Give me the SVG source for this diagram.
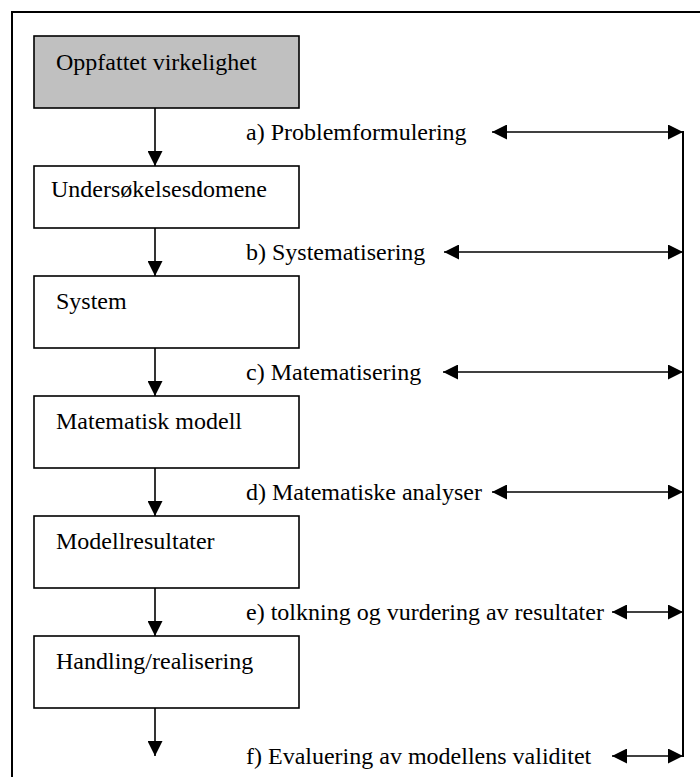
<svg xmlns="http://www.w3.org/2000/svg" width="700" height="777" viewBox="0 0 700 777">
<style>
.box{fill:#fff;stroke:#000;stroke-width:1.6}
.grey{fill:#c0c0c0}
.t{font-family:"Liberation Serif","Times New Roman",serif;font-size:24px;fill:#000}
.ln{stroke:#000;stroke-width:1.6;fill:none}
.da{stroke:#000;stroke-width:1.6;fill:none;marker-start:url(#ah);marker-end:url(#ah)}
.va{stroke:#000;stroke-width:1.6;fill:none;marker-end:url(#ah)}
</style>
<defs>
<marker id="ah" markerUnits="userSpaceOnUse" markerWidth="15" markerHeight="15" refX="15" refY="7.5" orient="auto-start-reverse" viewBox="0 0 15 15">
<path d="M0,0 L15,7.5 L0,15 z" fill="#000"/>
</marker>
</defs>
<rect width="700" height="777" fill="#fff"/>
<path d="M12,777 V12 H702" fill="none" stroke="#000" stroke-width="2"/>

<g id="n1"><rect class="box grey" x="34" y="36" width="265" height="72"/><text class="t" x="56" y="70">Oppfattet virkelighet</text></g>
<g id="n2"><rect class="box" x="34" y="166" width="265" height="62"/><text class="t" x="51" y="197">Undersøkelsesdomene</text></g>
<g id="n3"><rect class="box" x="34" y="276" width="265" height="72"/><text class="t" x="56" y="309">System</text></g>
<g id="n4"><rect class="box" x="34" y="396" width="265" height="72"/><text class="t" x="56" y="429">Matematisk modell</text></g>
<g id="n5"><rect class="box" x="34" y="516" width="265" height="72"/><text class="t" x="56" y="549">Modellresultater</text></g>
<g id="n6"><rect class="box" x="34" y="636" width="265" height="72"/><text class="t" x="56" y="669">Handling/realisering</text></g>

<g id="labels">
<text class="t" x="246" y="140">a) Problemformulering</text>
<text class="t" x="246" y="260">b) Systematisering</text>
<text class="t" x="246" y="380">c) Matematisering</text>
<text class="t" x="246" y="500">d) Matematiske analyser</text>
<text class="t" x="246" y="620">e) tolkning og vurdering av resultater</text>
<text class="t" x="246" y="764">f) Evaluering av modellens validitet</text>
</g>

<g id="connectors">
<line class="va" x1="155" y1="108" x2="155" y2="166"/>
<line class="va" x1="155" y1="228" x2="155" y2="276"/>
<line class="va" x1="155" y1="348" x2="155" y2="396"/>
<line class="va" x1="155" y1="468" x2="155" y2="516"/>
<line class="va" x1="155" y1="588" x2="155" y2="636"/>
<line class="va" x1="155" y1="708" x2="155" y2="756"/>
<line x1="683" y1="131" x2="683" y2="757" stroke="#000" stroke-width="2"/>
<line class="da" x1="492" y1="132" x2="683" y2="132"/>
<line class="da" x1="444" y1="252" x2="683" y2="252"/>
<line class="da" x1="443" y1="372" x2="683" y2="372"/>
<line class="da" x1="492" y1="492" x2="683" y2="492"/>
<line class="da" x1="612" y1="612" x2="683" y2="612"/>
<line class="da" x1="612" y1="756" x2="683" y2="756"/>
</g>
</svg>
